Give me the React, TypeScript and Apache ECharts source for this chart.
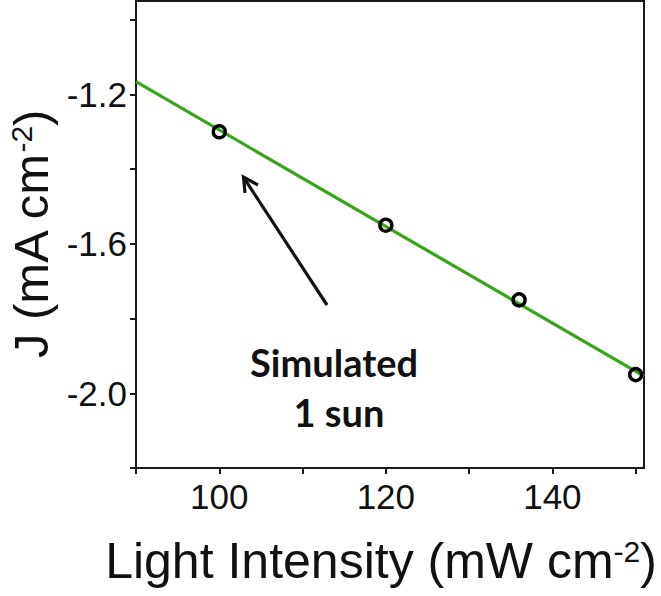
import React, { useEffect, useRef } from 'react';
import * as echarts from 'echarts';

// Data
const intensity = [100, 120, 136, 150];
const currentDensity = [-1.3, -1.55, -1.75, -1.95];
const fitX = [90, 151];
const fitY = [-1.166, -1.954];
const xTicks = [90, 100, 110, 120, 130, 140, 150];
const xLabels = [100, 120, 140];
const yTicks = [-2.2, -2.0, -1.8, -1.6, -1.4, -1.2, -1.0];
const yLabels = [-2.0, -1.6, -1.2];
const annotationLines = ['Simulated', '1 sun'];

const AXIS_FONT = 'Liberation Sans';

export default function App() {
  const ref = useRef<HTMLDivElement>(null);
  useEffect(() => {
    if (!ref.current) return;
    const chart = echarts.init(ref.current, undefined, { renderer: 'svg' });
    const axisLine = { show: true, lineStyle: { color: '#1a1a1a', width: 2 } };
    chart.setOption({
      animation: false,
      backgroundColor: '#ffffff',
      grid: {
        left: 136,
        right: 17,
        top: 1,
        bottom: 128,
        containLabel: false,
        outerBoundsMode: 'none',
        show: true,
        borderColor: '#1a1a1a',
        borderWidth: 2,
        backgroundColor: 'transparent',
      },
      xAxis: {
        type: 'value',
        min: 90,
        max: 151,
        axisLine,
        splitLine: { show: false },
        axisTick: {
          show: true,
          inside: false,
          length: 6,
          customValues: xTicks,
          lineStyle: { color: '#1a1a1a', width: 2 },
        },
        axisLabel: {
          customValues: xLabels,
          margin: 11,
          fontSize: 35,
          fontFamily: AXIS_FONT,
          color: '#111',
          formatter: (v: number) => String(v),
        },
        name: 'Light Intensity (mW cm{sup|-2})',
        nameLocation: 'middle',
        nameGap: 68,
        nameTextStyle: {
          fontSize: 50,
          fontFamily: AXIS_FONT,
          color: '#111',
          padding: [0, 18, 0, 0],
          rich: { sup: { fontSize: 30, fontFamily: AXIS_FONT, color: '#111', verticalAlign: 'top' } },
        },
      },
      yAxis: {
        type: 'value',
        min: -2.2,
        max: -0.95,
        axisLine,
        splitLine: { show: false },
        axisTick: {
          show: true,
          inside: false,
          length: 6,
          customValues: yTicks,
          lineStyle: { color: '#1a1a1a', width: 2 },
        },
        axisLabel: {
          customValues: yLabels,
          margin: 9,
          fontSize: 35,
          fontFamily: AXIS_FONT,
          color: '#111',
          formatter: (v: number) => v.toFixed(1),
        },
        name: 'J (mA cm{sup|-2})',
        nameLocation: 'middle',
        nameRotate: 90,
        nameGap: 80,
        nameTextStyle: {
          fontSize: 49,
          fontFamily: AXIS_FONT,
          color: '#111',
          rich: { sup: { fontSize: 30, fontFamily: AXIS_FONT, color: '#111', verticalAlign: 'top' } },
        },
      },
      series: [
        {
          type: 'line',
          data: fitX.map((x, i) => [x, fitY[i]]),
          showSymbol: false,
          symbol: 'none',
          lineStyle: { color: '#38a41a', width: 3.2 },
          z: 2,
        },
        {
          type: 'scatter',
          data: intensity.map((x, i) => [x, currentDensity[i]]),
          symbol: 'circle',
          symbolSize: 12,
          itemStyle: { color: 'rgba(255,255,255,0)', borderColor: '#000', borderWidth: 3.4, opacity: 1 },
          z: 3,
        },
      ],
      graphic: [
        {
          type: 'line',
          shape: { x1: 327, y1: 305, x2: 244, y2: 178 },
          style: { stroke: '#111', lineWidth: 3.2 },
        },
        {
          type: 'polyline',
          shape: { points: [[258, 185], [243.5, 177], [245, 193]] },
          style: { stroke: '#111', lineWidth: 3.2, fill: 'none', lineJoin: 'miter' },
        },
        {
          type: 'text',
          x: 334,
          y: 362,
          style: {
            text: annotationLines[0],
            font: 'bold 38px Lato',
            fill: '#111',
            align: 'center',
            verticalAlign: 'middle',
          },
        },
        {
          type: 'text',
          x: 339,
          y: 412,
          style: {
            text: annotationLines[1],
            font: 'bold 38px Lato',
            fill: '#111',
            align: 'center',
            verticalAlign: 'middle',
          },
        },
      ],
    });
    return () => chart.dispose();
  }, []);
  return (
    <div
      ref={ref}
      style={{ position: 'fixed', left: 0, top: 0, width: 661, height: 596, background: '#fff' }}
    />
  );
}
